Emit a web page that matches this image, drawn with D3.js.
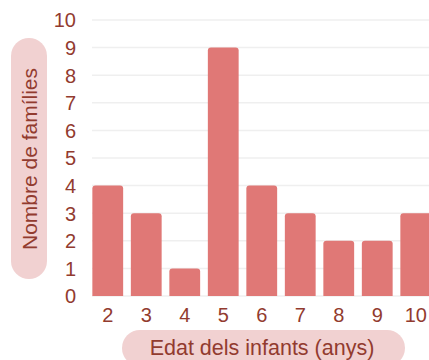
<!DOCTYPE html>
<html>
<head>
<meta charset="utf-8">
<script src="https://cdn.jsdelivr.net/npm/d3@7"></script>
<style>
  html, body { margin: 0; padding: 0; background: #fff; }
  svg { display: block; }
</style>
</head>
<body>
<div id="chart"></div>
<script>
// Ages of the children and how many families have a child of each age
const ages = ["2", "3", "4", "5", "6", "7", "8", "9", "10"];
const families = [4, 3, 1, 9, 4, 3, 2, 2, 3];
const yTicks = [0, 1, 2, 3, 4, 5, 6, 7, 8, 9, 10];
const xTitle = "Edat dels infants (anys)";
const yTitle = "Nombre de famílies";

const W = 429, H = 360;
const font = "'Liberation Sans', Arial, sans-serif";
const textColor = "#923b2f";
const barColor = "#e07876";
const pillColor = "#f1d1d1";

const svg = d3.select("#chart").append("svg")
  .attr("width", W).attr("height", H);

const y = d3.scaleLinear().domain([0, 10]).range([296, 20]);
const x = d3.scaleBand().domain(ages).range([88.5, 435])
  .paddingInner(0.2).paddingOuter(0.1);

// horizontal gridlines
svg.append("g").selectAll("line").data(yTicks).join("line")
  .attr("x1", 92).attr("x2", W)
  .attr("y1", d => y(d)).attr("y2", d => y(d))
  .attr("stroke", "#efefef").attr("stroke-width", 1.5);

// bars with rounded top corners
const r = 3;
function barPath(d, i) {
  const x0 = x(ages[i]), w = x.bandwidth();
  const top = y(d), base = y(0);
  return `M${x0},${base}V${top + r}Q${x0},${top} ${x0 + r},${top}` +
    `H${x0 + w - r}Q${x0 + w},${top} ${x0 + w},${top + r}V${base}Z`;
}
svg.append("g").selectAll("path").data(families).join("path")
  .attr("d", barPath)
  .attr("fill", barColor);

// y axis tick labels
const yAxis = d3.axisLeft(y).tickValues(yTicks).tickSize(0).tickPadding(0);
const gy = svg.append("g").attr("transform", "translate(76,0.5)").call(yAxis);
gy.select(".domain").remove();
gy.selectAll("text")
  .attr("font-family", font).attr("font-size", 20)
  .attr("fill", textColor);

// x axis tick labels
const xAxis = d3.axisBottom(x).tickSize(0).tickPadding(0);
const gx = svg.append("g").attr("transform", "translate(0,308)").call(xAxis);
gx.select(".domain").remove();
gx.selectAll("text")
  .attr("font-family", font).attr("font-size", 20)
  .attr("fill", textColor);

// y axis title in a rounded pill
svg.append("rect")
  .attr("x", 11).attr("y", 38).attr("width", 36).attr("height", 241)
  .attr("rx", 18).attr("fill", pillColor);
svg.append("text")
  .attr("transform", "translate(29,159) rotate(-90)")
  .attr("text-anchor", "middle").attr("dominant-baseline", "central")
  .attr("font-family", font).attr("font-size", 21)
  .attr("fill", textColor)
  .text(yTitle);

// x axis title in a rounded pill
svg.append("rect")
  .attr("x", 122).attr("y", 330).attr("width", 283).attr("height", 36)
  .attr("rx", 18).attr("fill", pillColor);
svg.append("text")
  .attr("x", 262).attr("y", 355)
  .attr("text-anchor", "middle")
  .attr("font-family", font).attr("font-size", 21.5)
  .attr("fill", textColor)
  .text(xTitle);
</script>
</body>
</html>
